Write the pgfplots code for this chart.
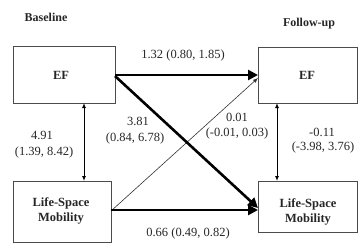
\documentclass[border=0pt]{standalone}
\usepackage{pgfplots}
\pgfplotsset{compat=1.18}
\usepackage{fontspec}
\setmainfont{Liberation Serif}
\usetikzlibrary{arrows.meta}
\tikzset{lbl/.style={font=\fontsize{12.5}{14}\selectfont,inner sep=0pt,text=black!85},
  bx/.style={font=\fontsize{12.5}{14}\selectfont\bfseries,inner sep=0pt,text=black!85}}
\begin{document}
\begin{tikzpicture}
\begin{axis}[width=361pt,height=242pt,scale only axis,xmin=0,xmax=361,ymin=0,ymax=242,y dir=reverse,hide axis,clip=false]
% boxes
\addplot[draw=black!70,line width=0.8pt] coordinates {(13,46)(115,46)(115,103)(13,103)(13,46)};
\addplot[draw=black!70,line width=0.8pt] coordinates {(258,47)(357,47)(357,103)(258,103)(258,47)};
\addplot[draw=black!70,line width=0.8pt] coordinates {(13,181)(111,181)(111,242)(13,242)(13,181)};
\addplot[draw=black!70,line width=0.8pt] coordinates {(258,181)(357,181)(357,232)(258,232)(258,181)};
% thin diagonal LSM -> EF
\addplot[black!80,line width=0.6pt,-{Latex[length=5pt,width=4pt]}] coordinates {(111,211)(258,78)};
% thick arrows
\addplot[black,line width=2.6pt,-{Triangle[length=10pt,width=10pt]}] coordinates {(115,75)(258,75)};
\addplot[black,line width=2.6pt,-{Triangle[length=10pt,width=10pt]}] coordinates {(115,76)(258,208)};
\addplot[black,line width=2.6pt,-{Triangle[length=10pt,width=10pt]}] coordinates {(111,210)(258,210)};
% vertical double arrows
\addplot[black,line width=1pt,{Latex[length=5pt,width=4pt]}-{Latex[length=5pt,width=4pt]}] coordinates {(84,103)(84,181)};
\addplot[black,line width=1pt,{Latex[length=5pt,width=4pt]}-{Latex[length=5pt,width=4pt]}] coordinates {(277,103)(277,181)};
% titles
\node[bx,font=\fontsize{12}{14}\selectfont\bfseries] at (axis cs:46,17) {Baseline};
\node[bx,font=\fontsize{12}{14}\selectfont\bfseries] at (axis cs:309,24) {Follow-up};
% box texts
\node[bx] at (axis cs:61,75) {EF};
\node[bx] at (axis cs:307,75) {EF};
\node[bx] at (axis cs:61,203) {Life-Space};
\node[bx] at (axis cs:61,219) {Mobility};
\node[bx] at (axis cs:308,204) {Life-Space};
\node[bx] at (axis cs:308,220) {Mobility};
% labels
\node[lbl] at (axis cs:183,55) {1.32 (0.80, 1.85)};
\node[lbl] at (axis cs:138,121) {3.81};
\node[lbl] at (axis cs:135,138) {(0.84, 6.78)};
\node[lbl] at (axis cs:237,117) {0.01};
\node[lbl] at (axis cs:237,133) {(-0.01, 0.03)};
\node[lbl] at (axis cs:42,135) {4.91};
\node[lbl] at (axis cs:44,152) {(1.39, 8.42)};
\node[lbl] at (axis cs:322,132) {-0.11};
\node[lbl] at (axis cs:323,147) {(-3.98, 3.76)};
\node[lbl] at (axis cs:188,233) {0.66 (0.49, 0.82)};
\end{axis}
\pgfresetboundingbox
\path (current axis.south west) rectangle (current axis.north east);
\end{tikzpicture}
\end{document}
